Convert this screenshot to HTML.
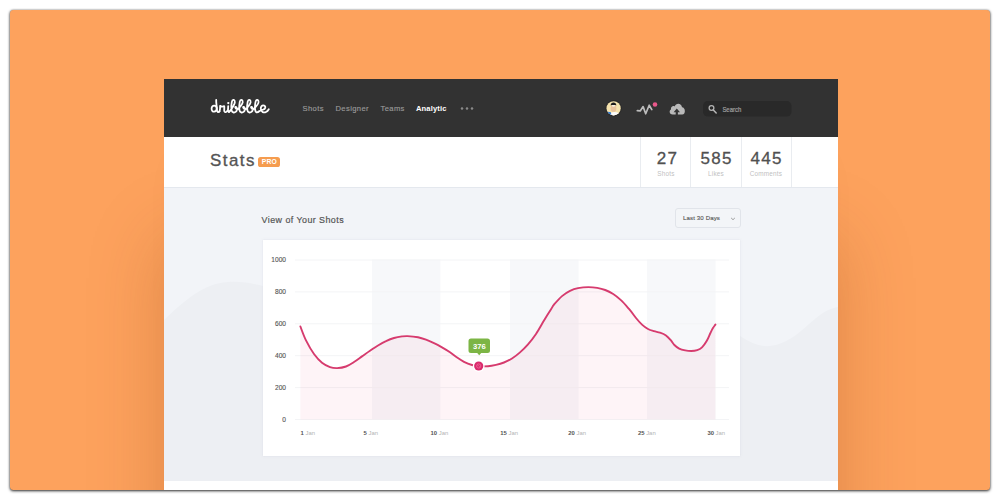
<!DOCTYPE html>
<html>
<head>
<meta charset="utf-8">
<style>
*{margin:0;padding:0;box-sizing:border-box;}
html,body{width:1000px;height:500px;overflow:hidden;background:#fff;font-family:"Liberation Sans",sans-serif;}
#card{position:absolute;left:10px;top:10px;width:980px;height:480px;background:#fda25d;border-radius:3.5px;box-shadow:0 1px 3px rgba(0,0,0,.8),0 0 2px rgba(0,0,0,.35);overflow:hidden;}
#win{position:absolute;left:154px;top:69px;width:674px;height:420px;background:#f2f4f8;box-shadow:0 160px 70px 2px rgba(125,45,0,.21),0 60px 40px -20px rgba(125,45,0,.06);overflow:hidden;}
#hdr{position:absolute;left:0;top:0;width:674px;height:58px;background:#323232;}
#nav span{position:absolute;top:24.5px;font-size:7.6px;letter-spacing:.38px;color:#999;-webkit-text-stroke:.15px #999;line-height:9px;white-space:nowrap;}
#nav span.act{color:#fff;font-weight:bold;letter-spacing:.12px;-webkit-text-stroke:0;}
#bar{position:absolute;left:0;top:58px;width:674px;height:51px;background:#fff;border-bottom:1px solid #e4e8ee;}
.div{position:absolute;top:0;width:1px;height:50px;background:#e9ecf0;}
.num{position:absolute;top:12px;font-size:17px;letter-spacing:1.35px;padding-left:1.3px;color:#505050;-webkit-text-stroke:.3px #505050;line-height:20px;text-align:center;width:50px;}
.lab{position:absolute;top:33.1px;font-size:6.4px;color:#bfbfbf;line-height:8px;text-align:center;width:50px;letter-spacing:.2px;}
#title{position:absolute;left:46px;top:71.2px;font-size:16.9px;color:#555;line-height:22px;letter-spacing:1.47px;-webkit-text-stroke:.35px #555;}
#pro{position:absolute;left:94.3px;top:78px;width:22px;height:10.4px;border-radius:2.6px;background:#f59c4f;color:#fff;font-size:6.8px;font-weight:bold;line-height:10.8px;text-align:center;letter-spacing:.15px;}
#vt{position:absolute;left:97.6px;top:135.5px;font-size:8.9px;color:#555;line-height:11px;letter-spacing:.45px;white-space:nowrap;-webkit-text-stroke:.2px #555;}
#dd{position:absolute;left:510.6px;top:128.8px;width:66px;height:20.4px;border:1px solid #e1e4ea;border-radius:3px;background:#f3f5f8;}
#dd span{position:absolute;left:7.4px;top:5.6px;font-size:6.1px;color:#555;line-height:8px;white-space:nowrap;letter-spacing:.12px;-webkit-text-stroke:.12px #555;}
#chart{position:absolute;left:99px;top:161px;width:477px;height:216px;background:#fff;box-shadow:0 0 2px rgba(200,205,215,.5);}
#foot{position:absolute;left:0;top:402px;width:674px;height:20px;background:#fff;}
</style>
</head>
<body>
<div id="card">
 <div id="win">
  <svg id="wave" width="674" height="420" style="position:absolute;left:0;top:0">
   <path d="M0,241 C20,222 40,204 64,203 C84,202 96,207 110,209 L576,257 C590,266 600,269 612,266 C640,258 650,232 674,228 L674,420 L0,420 Z" fill="#edeff3"/>
  </svg>
  <div id="hdr">
   <svg id="logo" width="72" height="24" viewBox="204 94 72 24" style="position:absolute;left:40px;top:15.4px"><g fill="none" stroke="#fff" stroke-width="1.8" stroke-linecap="round" stroke-linejoin="round"><path d="M216.8,108.4 C216.6,105.0 211.6,104.4 211.6,108.8 C211.6,112.8 216.6,112.6 216.8,108.4"/><path d="M216.2,100.0 C216.0,103 216.9,107 216.9,110 C217.0,112.4 218.6,112.6 219.5,111.4"/><path d="M219.5,111.4 C220.2,109.5 220.2,107.5 220.1,105.8 C221.5,107 223,106.6 224.2,106.2 C224.6,108 223.8,110 224.4,111.4 C225.2,112.8 227,112 227.6,110.4"/><path d="M228.2,106.2 L228.0,110 C228.0,112.4 229.2,112.5 229.6,111.4"/><path d="M229.60,111.40 C231.20,109.80 235.50,103.4 234.80,101.3 C234.20,99.2 232.40,99.6 231.85,101.9 C231.20,104.8 231.10,108 231.55,110.2 C232.00,112.7 234.30,113 235.70,111.9 C237.10,110.8 237.40,108.4 236.30,107.2 C235.50,106.3 234.80,107 235.50,107.9 C236.20,108.9 237.30,109.2 238.10,108.9 "/><path d="M238.10,108.90 C239.70,107.30 243.40,103.4 242.70,101.3 C242.10,99.2 240.30,99.6 239.75,101.9 C239.10,104.8 239.00,108 239.45,110.2 C239.90,112.7 242.20,113 243.60,111.9 C245.00,110.8 245.30,108.4 244.20,107.2 C243.40,106.3 242.70,107 243.40,107.9 C244.10,108.9 245.20,109.2 246.00,108.9 "/><path d="M246.00,108.90 C247.60,107.30 251.30,103.4 250.60,101.3 C250.00,99.2 248.20,99.6 247.65,101.9 C247.00,104.8 246.90,108 247.35,110.2 C247.80,112.7 250.10,113 251.50,111.9 C252.90,110.8 253.20,108.4 252.10,107.2 C251.30,106.3 250.60,107 251.30,107.9 C252.00,108.9 253.10,109.2 253.90,108.9 "/><path d="M253.90,108.90 C255.50,107.30 259.20,103.4 258.50,101.3 C257.90,99.2 256.10,99.6 255.55,101.9 C254.90,104.8 254.80,108 255.25,110.2 C255.70,112.6 257.20,112.9 258.50,111.7 "/><path d="M258.5,111.7 C260.0,110.9 261.5,109.8 263,109.6 C265.5,109.2 266.2,106.4 264.2,105.6 C262,104.8 260.6,106.8 260.8,109 C261,112.2 264,113 266,112 C267.4,111.3 268.2,110.2 268.8,109.2"/></g><circle cx="228.3" cy="103.1" r="1.15" fill="#fff"/></svg>
   <div id="nav">
    <span style="left:138.5px">Shots</span>
    <span style="left:171.5px">Designer</span>
    <span style="left:216.5px">Teams</span>
    <span class="act" style="left:252px">Analytic</span>
   </div>
   <svg id="hicons" width="674" height="58" viewBox="164 79 674 58" style="position:absolute;left:0;top:0">
<g fill="#8a8a8a"><circle cx="462" cy="108.6" r="1.25"/><circle cx="467" cy="108.6" r="1.25"/><circle cx="472" cy="108.6" r="1.25"/></g>
<defs><clipPath id="avc"><circle cx="613.6" cy="108.3" r="7.1"/></clipPath></defs>
<circle cx="613.6" cy="108.3" r="8.2" fill="#2a2a2a"/>
<g clip-path="url(#avc)">
<rect x="606" y="100" width="16" height="17" fill="#f5e3ad"/>
<ellipse cx="614.6" cy="115.4" rx="4.6" ry="3.4" fill="#fbfbfb"/>
<path d="M606,111.6 L611,112.2 L611.4,117 L606,117 Z" fill="#3b7fcf"/>
<ellipse cx="613.5" cy="108.4" rx="2.9" ry="3.4" fill="#e9c39c"/>
<ellipse cx="613.5" cy="105.7" rx="1.6" ry="1" fill="#faf0e0"/>
<path d="M610.7,105.5 C610.3,101.4 616.7,101.4 616.3,105.5 C615.2,104.9 611.8,104.9 610.7,105.5 Z" fill="#1c1c1c"/>
</g>
<path d="M637.3,110.6 L640.2,110.9 L643.1,106.6 L645.7,113.8 L649.2,105.2 L651.8,109.6" fill="none" stroke="#bcbcbc" stroke-width="1.7" stroke-linejoin="round" stroke-linecap="round"/>
<circle cx="655" cy="104.5" r="2.3" fill="#e9588b"/>
<path d="M672.6,114.6 C669.6,114.6 668.6,111 671,109.6 C670.4,106.6 673.2,105.2 674.8,106.4 C675.6,102.6 681.6,102.6 682,107.2 C685.6,107.2 686,114.6 682.2,114.6 Z" fill="#b9b9b9"/>
<path d="M676.8,108.4 L680,112.2 L677.9,112.2 L677.9,115.2 L675.7,115.2 L675.7,112.2 L673.6,112.2 Z" fill="#333"/>
<rect x="703" y="101" width="88.5" height="15.6" rx="5" fill="#292929"/>
<circle cx="711.5" cy="108" r="2.4" fill="none" stroke="#b5b5b5" stroke-width="1.25"/>
<path d="M713.3,109.9 L716.2,113" stroke="#b5b5b5" stroke-width="1.5" stroke-linecap="round"/>
<text x="722.4" y="111.6" textLength="18.8" lengthAdjust="spacingAndGlyphs" style="font-family:'Liberation Sans',sans-serif;font-size:6.8px;fill:#a0a0a0;stroke:#a0a0a0;stroke-width:.2px">Search</text>
</svg>
  </div>
  <div id="bar">
   <div class="div" style="left:476px"></div>
   <div class="div" style="left:526px"></div>
   <div class="div" style="left:577px"></div>
   <div class="div" style="left:627px"></div>
   <div class="num" style="left:477.8px">27</div>
   <div class="num" style="left:527px">585</div>
   <div class="num" style="left:577px">445</div>
   <div class="lab" style="left:477px">Shots</div>
   <div class="lab" style="left:527px">Likes</div>
   <div class="lab" style="left:577px">Comments</div>
  </div>
  <div id="title">Stats</div>
  <div id="pro">PRO</div>
  <div id="vt">View of Your Shots</div>
  <div id="dd"><span>Last 30 Days</span><svg width="6" height="4" viewBox="0 0 6 4" style="position:absolute;left:54.3px;top:8.2px"><path d="M1.4,1.2 L3,2.7 L4.6,1.2" fill="none" stroke="#888" stroke-width=".8" stroke-linecap="round" stroke-linejoin="round"/></svg></div>
  <div id="chart"><svg id="csvg" width="477" height="216" viewBox="263 240 477 216" style="position:absolute;left:0;top:0">
<style>
.yl{font-family:"Liberation Sans",sans-serif;font-size:6.6px;fill:#555;stroke:#555;stroke-width:.12px;}
.xl{font-family:"Liberation Sans",sans-serif;font-size:5.9px;fill:#b3b3b3;}
.xb{font-weight:bold;fill:#555;}
</style>
<rect x="372.0" y="259.5" width="68.4" height="160" fill="#f7f8fa"/>
<rect x="510.0" y="259.5" width="68.6" height="160" fill="#f7f8fa"/>
<rect x="646.9" y="259.5" width="68.7" height="160" fill="#f7f8fa"/>
<line x1="295" x2="729" y1="260.0" y2="260.0" stroke="#f3f4f6" stroke-width="1"/>
<line x1="295" x2="729" y1="291.9" y2="291.9" stroke="#f3f4f6" stroke-width="1"/>
<line x1="295" x2="729" y1="323.8" y2="323.8" stroke="#f3f4f6" stroke-width="1"/>
<line x1="295" x2="729" y1="355.7" y2="355.7" stroke="#f3f4f6" stroke-width="1"/>
<line x1="295" x2="729" y1="387.6" y2="387.6" stroke="#f3f4f6" stroke-width="1"/>
<line x1="295" x2="729" y1="419.5" y2="419.5" stroke="#f3f4f6" stroke-width="1"/>

<path d="M300.4,326.5 C301.3,328.8 303.7,335.8 306.0,340.4 C308.3,345.0 311.3,350.3 314.0,354.0 C316.7,357.7 319.3,360.6 322.0,362.8 C324.7,365.0 327.5,366.2 330.0,367.1 C332.5,368.0 334.5,368.2 337.2,368.1 C339.9,368.0 343.2,367.5 346.0,366.5 C348.8,365.5 351.3,363.7 354.0,362.0 C356.7,360.3 359.3,358.3 362.0,356.4 C364.7,354.5 367.3,352.6 370.0,350.8 C372.7,349.0 375.3,347.1 378.0,345.5 C380.7,343.9 383.3,342.4 386.0,341.2 C388.7,339.9 391.3,338.8 394.0,338.0 C396.7,337.2 399.7,336.7 402.0,336.4 C404.3,336.1 404.9,336.0 407.6,336.1 C410.3,336.2 414.9,336.6 418.0,337.2 C421.1,337.8 423.3,338.6 426.0,339.6 C428.7,340.6 431.3,341.8 434.0,343.1 C436.7,344.4 439.3,345.8 442.0,347.3 C444.7,348.8 447.7,350.7 450.0,352.3 C452.3,353.9 453.7,355.2 456.0,356.8 C458.3,358.4 461.3,360.4 464.0,361.8 C466.7,363.2 469.6,364.3 472.0,365.0 C474.4,365.7 476.0,366.0 478.7,366.2 C481.4,366.4 485.1,366.4 488.0,366.2 C490.9,366.0 493.3,365.5 496.0,364.9 C498.7,364.3 501.3,363.6 504.0,362.5 C506.7,361.4 509.3,360.2 512.0,358.5 C514.7,356.8 517.3,354.8 520.0,352.4 C522.7,350.0 525.3,347.5 528.0,344.4 C530.7,341.3 533.3,338.0 536.0,334.0 C538.7,330.0 541.5,324.7 544.0,320.5 C546.5,316.3 549.5,311.6 551.2,309.0 C552.9,306.4 552.2,306.8 554.0,304.6 C555.8,302.5 559.3,298.4 562.0,296.1 C564.7,293.8 567.3,292.1 570.0,290.8 C572.7,289.5 574.9,288.7 578.0,288.1 C581.1,287.5 585.2,287.1 588.4,287.1 C591.6,287.1 594.4,287.4 597.2,287.9 C600.0,288.4 602.5,289.0 605.2,290.0 C607.9,291.0 610.5,292.3 613.2,294.0 C615.9,295.7 618.5,297.9 621.2,300.4 C623.9,302.9 626.7,306.3 629.2,309.2 C631.7,312.1 633.9,315.4 636.0,318.0 C638.1,320.6 640.0,322.8 642.0,324.6 C644.0,326.4 646.0,327.9 648.0,329.0 C650.0,330.1 652.0,330.6 654.0,331.2 C656.0,331.8 658.0,331.9 660.0,332.6 C662.0,333.3 664.2,334.1 666.0,335.4 C667.8,336.7 669.4,338.6 670.8,340.2 C672.2,341.8 673.0,343.6 674.4,345.0 C675.8,346.4 677.4,347.7 679.2,348.6 C681.0,349.5 683.2,350.0 685.2,350.4 C687.2,350.8 689.2,351.0 691.2,351.0 C693.2,351.0 695.4,350.8 697.2,350.2 C699.0,349.6 700.4,349.0 702.0,347.4 C703.6,345.8 705.4,343.2 706.8,340.8 C708.2,338.4 709.4,335.1 710.4,333.0 C711.4,330.9 712.0,329.6 712.8,328.2 C713.6,326.8 715.0,325.2 715.4,324.6 L715.4,419.5 L300.4,419.5 Z" fill="#f5447f" fill-opacity="0.058"/>
<path d="M300.4,326.5 C301.3,328.8 303.7,335.8 306.0,340.4 C308.3,345.0 311.3,350.3 314.0,354.0 C316.7,357.7 319.3,360.6 322.0,362.8 C324.7,365.0 327.5,366.2 330.0,367.1 C332.5,368.0 334.5,368.2 337.2,368.1 C339.9,368.0 343.2,367.5 346.0,366.5 C348.8,365.5 351.3,363.7 354.0,362.0 C356.7,360.3 359.3,358.3 362.0,356.4 C364.7,354.5 367.3,352.6 370.0,350.8 C372.7,349.0 375.3,347.1 378.0,345.5 C380.7,343.9 383.3,342.4 386.0,341.2 C388.7,339.9 391.3,338.8 394.0,338.0 C396.7,337.2 399.7,336.7 402.0,336.4 C404.3,336.1 404.9,336.0 407.6,336.1 C410.3,336.2 414.9,336.6 418.0,337.2 C421.1,337.8 423.3,338.6 426.0,339.6 C428.7,340.6 431.3,341.8 434.0,343.1 C436.7,344.4 439.3,345.8 442.0,347.3 C444.7,348.8 447.7,350.7 450.0,352.3 C452.3,353.9 453.7,355.2 456.0,356.8 C458.3,358.4 461.3,360.4 464.0,361.8 C466.7,363.2 469.6,364.3 472.0,365.0 C474.4,365.7 476.0,366.0 478.7,366.2 C481.4,366.4 485.1,366.4 488.0,366.2 C490.9,366.0 493.3,365.5 496.0,364.9 C498.7,364.3 501.3,363.6 504.0,362.5 C506.7,361.4 509.3,360.2 512.0,358.5 C514.7,356.8 517.3,354.8 520.0,352.4 C522.7,350.0 525.3,347.5 528.0,344.4 C530.7,341.3 533.3,338.0 536.0,334.0 C538.7,330.0 541.5,324.7 544.0,320.5 C546.5,316.3 549.5,311.6 551.2,309.0 C552.9,306.4 552.2,306.8 554.0,304.6 C555.8,302.5 559.3,298.4 562.0,296.1 C564.7,293.8 567.3,292.1 570.0,290.8 C572.7,289.5 574.9,288.7 578.0,288.1 C581.1,287.5 585.2,287.1 588.4,287.1 C591.6,287.1 594.4,287.4 597.2,287.9 C600.0,288.4 602.5,289.0 605.2,290.0 C607.9,291.0 610.5,292.3 613.2,294.0 C615.9,295.7 618.5,297.9 621.2,300.4 C623.9,302.9 626.7,306.3 629.2,309.2 C631.7,312.1 633.9,315.4 636.0,318.0 C638.1,320.6 640.0,322.8 642.0,324.6 C644.0,326.4 646.0,327.9 648.0,329.0 C650.0,330.1 652.0,330.6 654.0,331.2 C656.0,331.8 658.0,331.9 660.0,332.6 C662.0,333.3 664.2,334.1 666.0,335.4 C667.8,336.7 669.4,338.6 670.8,340.2 C672.2,341.8 673.0,343.6 674.4,345.0 C675.8,346.4 677.4,347.7 679.2,348.6 C681.0,349.5 683.2,350.0 685.2,350.4 C687.2,350.8 689.2,351.0 691.2,351.0 C693.2,351.0 695.4,350.8 697.2,350.2 C699.0,349.6 700.4,349.0 702.0,347.4 C703.6,345.8 705.4,343.2 706.8,340.8 C708.2,338.4 709.4,335.1 710.4,333.0 C711.4,330.9 712.0,329.6 712.8,328.2 C713.6,326.8 715.0,325.2 715.4,324.6" fill="none" stroke="#d63b6e" stroke-width="1.9" stroke-linecap="round" stroke-linejoin="round"/>
<text x="286" y="262.3" text-anchor="end" class="yl">1000</text>
<text x="286" y="294.2" text-anchor="end" class="yl">800</text>
<text x="286" y="326.1" text-anchor="end" class="yl">600</text>
<text x="286" y="358.0" text-anchor="end" class="yl">400</text>
<text x="286" y="389.9" text-anchor="end" class="yl">200</text>
<text x="286" y="421.8" text-anchor="end" class="yl">0</text>
<text x="300.6" y="435.3" class="xl"><tspan class="xb">1</tspan><tspan dx="1.6">Jan</tspan></text>
<text x="363.6" y="435.3" class="xl"><tspan class="xb">5</tspan><tspan dx="1.6">Jan</tspan></text>
<text x="430.6" y="435.3" class="xl"><tspan class="xb">10</tspan><tspan dx="1.6">Jan</tspan></text>
<text x="500.3" y="435.3" class="xl"><tspan class="xb">15</tspan><tspan dx="1.6">Jan</tspan></text>
<text x="568.3" y="435.3" class="xl"><tspan class="xb">20</tspan><tspan dx="1.6">Jan</tspan></text>
<text x="638.0" y="435.3" class="xl"><tspan class="xb">25</tspan><tspan dx="1.6">Jan</tspan></text>
<text x="707.4" y="435.3" class="xl"><tspan class="xb">30</tspan><tspan dx="1.6">Jan</tspan></text>

<g id="tip">
<path d="M471,338.5 h16.5 a2.5,2.5 0 0 1 2.5,2.5 v9.4 a2.5,2.5 0 0 1 -2.5,2.5 h-6.3 l-2,2.4 l-2,-2.4 h-6.2 a2.5,2.5 0 0 1 -2.5,-2.5 v-9.4 a2.5,2.5 0 0 1 2.5,-2.5 z" fill="#7cb545"/>
<text x="479.3" y="348.9" text-anchor="middle" style="font-family:'Liberation Sans',sans-serif;font-size:7.7px;font-weight:bold;fill:#fff">376</text>
</g>
<circle cx="478.7" cy="366" r="5.9" fill="#fff"/>
<circle cx="478.7" cy="366" r="4.6" fill="#da2a6c"/>
<circle cx="478.7" cy="366" r="2.1" fill="none" stroke="#ef6a9a" stroke-width=".8"/>
<path d="M477.2,364.8 C478.6,365.4 479.6,366.4 480,367.6" fill="none" stroke="#ef6a9a" stroke-width=".6"/>
</svg></div>
  <div id="foot"></div>
 </div>
</div>
</body>
</html>
